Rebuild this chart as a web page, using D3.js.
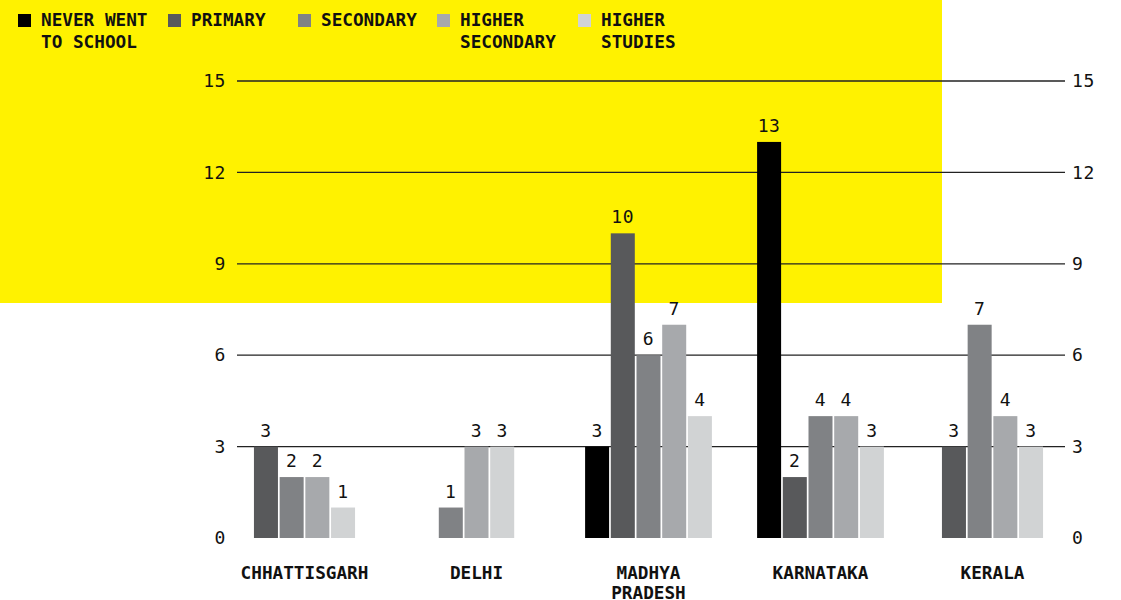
<!DOCTYPE html>
<html>
<head>
<meta charset="utf-8">
<script src="https://cdn.jsdelivr.net/npm/d3@7"></script>
<style>
  html, body { margin: 0; padding: 0; background: #ffffff; }
  svg { display: block; }
</style>
</head>
<body>
<svg id="chart" width="1121" height="600"></svg>
<script>
// ---- data ----
const states = ["CHHATTISGARH", "DELHI", "MADHYA\nPRADESH", "KARNATAKA", "KERALA"];
const seriesKeys = ["never", "primary", "secondary", "higherSecondary", "higherStudies"];
const seriesLabels = ["NEVER WENT\nTO SCHOOL", "PRIMARY", "SECONDARY", "HIGHER\nSECONDARY", "HIGHER\nSTUDIES"];
const neverWent       = [0, 0, 3, 13, 0];
const primary         = [3, 0, 10, 2, 3];
const secondary       = [2, 1, 6, 4, 7];
const higherSecondary = [2, 3, 7, 4, 4];
const higherStudies   = [1, 3, 4, 3, 3];
const yTicks = [0, 3, 6, 9, 12, 15];
const seriesColors = ["#000000", "#58595b", "#808285", "#a7a9ac", "#d1d3d4"];

const seriesValues = [neverWent, primary, secondary, higherSecondary, higherStudies];

// ---- layout ----
const svg = d3.select("#chart");
const W = 1121, H = 600;
const monoFont = "'DejaVu Sans Mono', 'Liberation Mono', monospace";

svg.append("rect").attr("x", 0).attr("y", 0).attr("width", W).attr("height", H).attr("fill", "#ffffff");
svg.append("rect").attr("x", 0).attr("y", 0).attr("width", 942).attr("height", 303).attr("fill", "#fff200");

const y = d3.scaleLinear().domain([0, 15]).range([538, 81]);
const x0 = d3.scaleBand().domain(states).range([218.5, 1078.5]);
const subStep = 25.7;

const gridLeft = 237, gridRight = 1065;

// gridlines (not at 0)
svg.append("g").selectAll("line")
  .data(yTicks.filter(t => t > 0))
  .join("line")
  .attr("x1", gridLeft).attr("x2", gridRight)
  .attr("y1", d => y(d)).attr("y2", d => y(d))
  .attr("stroke", "#222").attr("stroke-width", 1.3);

// axis labels
const numStyle = sel => sel.attr("font-family", monoFont).attr("font-size", 18)
  .attr("letter-spacing", 0.6).attr("fill", "#111");

const leftAxis = d3.axisLeft(y).tickValues(yTicks).tickSize(0).tickPadding(0);
const gl = svg.append("g").attr("transform", `translate(226,0)`).call(leftAxis);
gl.select(".domain").remove();
gl.selectAll("text").call(numStyle);

const rightAxis = d3.axisRight(y).tickValues(yTicks).tickSize(0).tickPadding(0);
const gr = svg.append("g").attr("transform", `translate(1072,0)`).call(rightAxis);
gr.select(".domain").remove();
gr.selectAll("text").call(numStyle);

// bars
states.forEach((s, si) => {
  const present = seriesKeys.map((k, ki) => ({ key: k, ki, value: seriesValues[ki][si] })).filter(d => d.value > 0);
  const n = present.length;
  const c = x0(s) + x0.bandwidth() / 2;
  const x1 = d3.scaleBand().domain(present.map(d => d.key))
    .range([c - n * subStep / 2, c + n * subStep / 2])
    .paddingInner(0.066).paddingOuter(0.033);
  const g = svg.append("g");
  g.selectAll("rect").data(present).join("rect")
    .attr("x", d => x1(d.key))
    .attr("y", d => y(d.value))
    .attr("width", x1.bandwidth())
    .attr("height", d => y(0) - y(d.value))
    .attr("fill", d => seriesColors[d.ki]);
  g.selectAll("text").data(present).join("text")
    .attr("x", d => x1(d.key) + x1.bandwidth() / 2)
    .attr("y", d => y(d.value) - 10)
    .attr("text-anchor", "middle")
    .call(numStyle)
    .text(d => d.value);

  // category label
  const lbl = svg.append("text")
    .attr("x", c).attr("y", 579)
    .attr("text-anchor", "middle")
    .attr("font-family", monoFont).attr("font-size", 17.7).attr("font-weight", "bold").attr("fill", "#111");
  s.split("\n").forEach((line, li) => {
    lbl.append("tspan").attr("x", c).attr("dy", li === 0 ? 0 : 20).text(line);
  });
});

// legend
const legendX = [18, 168, 298, 437, 578];
seriesLabels.forEach((lab, i) => {
  const g = svg.append("g").attr("transform", `translate(${legendX[i]},0)`);
  g.append("rect").attr("x", 0).attr("y", 14).attr("width", 13).attr("height", 13).attr("fill", seriesColors[i]);
  const t = g.append("text").attr("x", 23).attr("y", 26)
    .attr("font-family", monoFont).attr("font-size", 17.7).attr("font-weight", "bold").attr("fill", "#111");
  lab.split("\n").forEach((line, li) => {
    t.append("tspan").attr("x", 23).attr("dy", li === 0 ? 0 : 22).text(line);
  });
});
</script>
</body>
</html>
